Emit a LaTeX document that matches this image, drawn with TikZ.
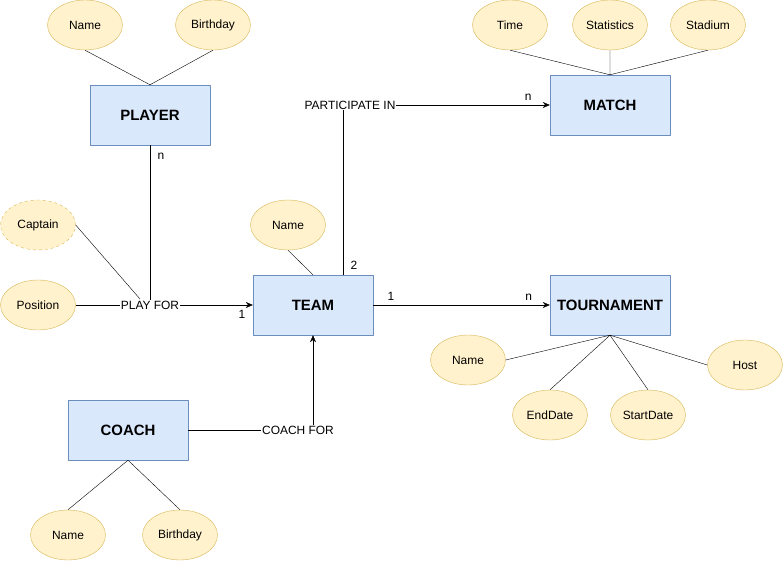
\documentclass[tikz,border=0pt]{standalone}
\usepackage{fontspec}
\setmainfont{Liberation Sans}
\usetikzlibrary{arrows.meta,shapes.geometric}
\definecolor{attrfill}{HTML}{FFF2CC}
\definecolor{attrline}{HTML}{D6B656}
\definecolor{entfill}{HTML}{DAE8FC}
\definecolor{entline}{HTML}{6C8EBF}
\begin{document}
\begin{tikzpicture}[x=1bp,y=-1bp,>={Stealth[length=7bp,width=6bp]},line join=round,
	attr/.style={ellipse,draw=attrline,fill=attrfill,minimum width=75bp,minimum height=50bp,inner sep=0pt,font=\fontsize{12}{14}\selectfont},
	entity/.style={rectangle,draw=entline,fill=entfill,minimum width=120bp,minimum height=60bp,font=\fontsize{15}{17}\selectfont\bfseries},
	rel/.style={fill=white,inner sep=0.5bp,font=\fontsize{12}{14}\selectfont},
	card/.style={font=\fontsize{12}{14}\selectfont}]
	\useasboundingbox (0,0) rectangle (784,561);
	% entities
	\node[entity] (player) at (150,115) {PLAYER};
	\node[entity] (team) at (313,305) {TEAM};
	\node[entity] (match) at (610,105) {MATCH};
	\node[entity] (tour) at (610,305) {TOURNAMENT};
	\node[entity] (coach) at (128,430) {COACH};
	% attributes
	\node[attr] (pname) at (85,25) {Name};
	\node[attr] (pbirth) at (213,25) {Birthday};
	\node[attr,dashed] (captain) at (38,225) {Captain};
	\node[attr] (position) at (38,305) {Position};
	\node[attr] (tname) at (288,225) {Name};
	\node[attr] (time) at (510,25) {Time};
	\node[attr] (stats) at (610,25) {Statistics};
	\node[attr] (stadium) at (708,25) {Stadium};
	\node[attr] (toname) at (468,360) {Name};
	\node[attr] (enddate) at (550,415) {EndDate};
	\node[attr] (startdate) at (648,415) {StartDate};
	\node[attr] (host) at (745,365) {Host};
	\node[attr] (cname) at (68,535) {Name};
	\node[attr] (cbirth) at (180,535) {Birthday};
	% relationships
	\node[rel] (playfor) at (150,305) {PLAY FOR};
	\node[rel] (partin) at (350,105) {PARTICIPATE IN};
	\node[rel] (coachfor) at (298,430) {COACH FOR};
	\coordinate (tp) at (343,275);
	\coordinate (cp) at (140,299);
	% attribute lines
	\draw (pname.south) -- (player.north) (pbirth.south) -- (player.north);
	\draw (tname.south) -- (team.north);
	\draw (time.south) -- (match.north) (stats.south) -- (match.north) (stadium.south) -- (match.north);
	\draw (tour.south) -- (toname.east) (tour.south) -- (enddate.north) (tour.south) -- (startdate.north) (tour.south) -- (host.west);
	\draw (coach.south) -- (cname.north) (coach.south) -- (cbirth.north);
	% relationship lines
	\draw (player.south) -- (playfor.north) node[card,pos=0.07,right=4bp] {n};
	\draw (captain.east) -- (cp);
	\draw (position.east) -- (playfor.west);
	\draw[->] (playfor.east) -- (team.west) node[card,pos=0.85,below=2bp] {1};
	\draw (tp) -- (tp |- partin.south) node[card,pos=0.06,right=4bp] {2};
	\draw[->] (partin.east) -- (match.west) node[card,pos=0.86,above=1bp] {n};
	\draw[->] (team.east) -- (tour.west) node[card,pos=0.1,above=1bp] {1} node[card,pos=0.88,above=1bp] {n};
	\draw (coach.east) -- (coachfor.west);
	\draw[->] (coachfor.north -| team.south) -- (team.south);
\end{tikzpicture}
\end{document}
